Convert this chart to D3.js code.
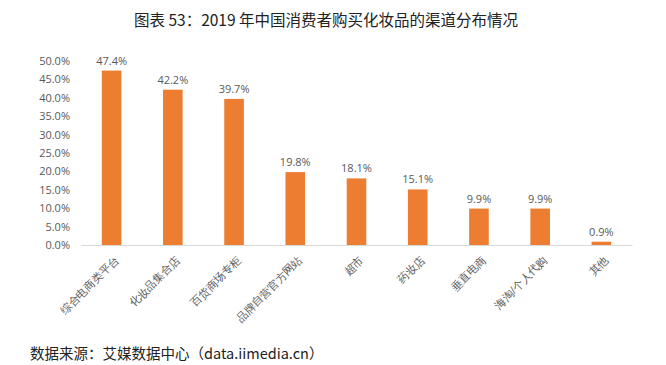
<!DOCTYPE html>
<html>
<head>
<meta charset="utf-8">
<script src="https://cdn.jsdelivr.net/npm/d3@7"></script>
<style>
  body { margin: 0; background: #fff; }
  svg { display: block; font-family: "Noto Sans CJK SC", "Noto Sans", sans-serif; }
</style>
</head>
<body>
<div id="chart"></div>
<script>
// channel names and share of consumers
var categories = ["综合电商类平台", "化妆品集合店", "百货商场专柜", "品牌自营官方网站", "超市", "药妆店", "垂直电商", "海淘/个人代购", "其他"];
var values = [47.4, 42.2, 39.7, 19.8, 18.1, 15.1, 9.9, 9.9, 0.9];
var yTicks = [0, 5, 10, 15, 20, 25, 30, 35, 40, 45, 50];

var width = 666, height = 365;
var margin = { left: 81, right: 34, top: 61, bottom: 120 };

var svg = d3.select("#chart").append("svg")
  .attr("width", width)
  .attr("height", height);

// title
svg.append("text")
  .attr("x", 326)
  .attr("y", 26)
  .attr("text-anchor", "middle")
  .attr("font-size", 15.5)
  .attr("fill", "#222")
  .text("图表 53：2019 年中国消费者购买化妆品的渠道分布情况");

var x = d3.scaleBand()
  .domain(categories)
  .range([margin.left, width - margin.right])
  .paddingInner(0.68)
  .paddingOuter(0.34);

var y = d3.scaleLinear()
  .domain([0, 50])
  .range([height - margin.bottom, margin.top]);

// y axis, labels only
var yAxis = svg.append("g")
  .attr("transform", "translate(" + (margin.left - 8) + ",0)")
  .call(d3.axisLeft(y).tickValues(yTicks).tickSize(0).tickFormat(function (d) { return d.toFixed(1) + "%"; }));
yAxis.select(".domain").remove();
yAxis.selectAll("text")
  .attr("font-size", 11)
  .attr("fill", "#595959")
  .attr("font-family", "Open Sans, sans-serif");

// bars
svg.selectAll(".bar")
  .data(values)
  .enter()
  .append("rect")
  .attr("class", "bar")
  .attr("x", function (d, i) { return x(categories[i]); })
  .attr("y", function (d) { return y(d); })
  .attr("width", x.bandwidth())
  .attr("height", function (d) { return y(0) - y(d); })
  .attr("fill", "#ED7D31");

// value labels
svg.selectAll(".val")
  .data(values)
  .enter()
  .append("text")
  .attr("class", "val")
  .attr("x", function (d, i) { return x(categories[i]) + x.bandwidth() / 2; })
  .attr("y", function (d) { return y(d) - 6; })
  .attr("text-anchor", "middle")
  .attr("font-size", 11)
  .attr("fill", "#595959")
  .attr("font-family", "Open Sans, sans-serif")
  .text(function (d) { return d.toFixed(1) + "%"; });

// x axis
var xAxis = svg.append("g")
  .attr("transform", "translate(0," + y(0) + ")")
  .call(d3.axisBottom(x).tickSize(0).tickSizeOuter(0));
xAxis.select(".domain").attr("stroke", "#d9d9d9");
xAxis.selectAll("text")
  .attr("font-size", 11)
  .attr("fill", "#595959")
  .attr("text-anchor", "end")
  .attr("transform", "translate(5,13) rotate(-45)")
  .attr("dy", "0.35em")
  .attr("y", 0)
  .attr("x", 0);

// source
svg.append("text")
  .attr("x", 30)
  .attr("y", 359)
  .attr("font-size", 14.5)
  .attr("fill", "#222")
  .text("数据来源：艾媒数据中心（data.iimedia.cn）");
</script>
</body>
</html>
